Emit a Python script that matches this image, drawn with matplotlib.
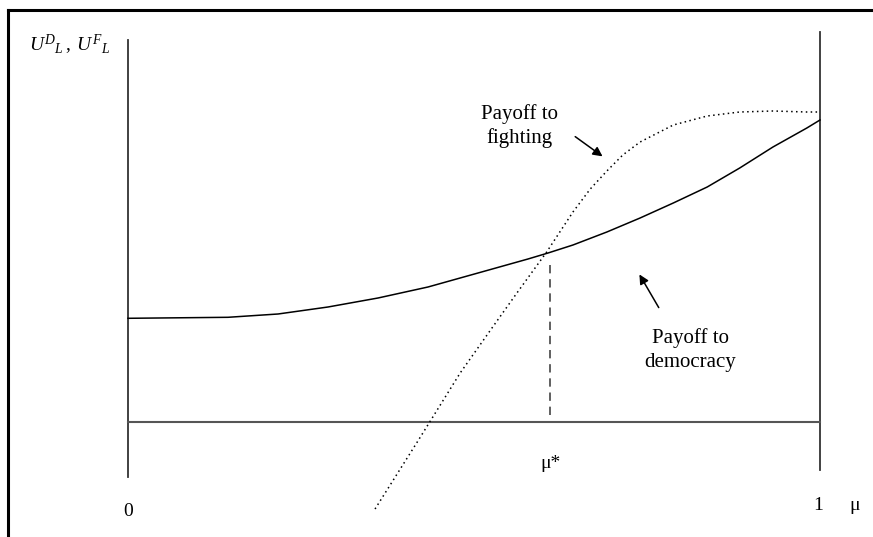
import matplotlib.pyplot as plt
from matplotlib.lines import Line2D

plt.rcParams['font.family'] = ['Liberation Serif', 'DejaVu Serif']
plt.rcParams['mathtext.fontset'] = 'custom'
plt.rcParams['mathtext.it'] = 'Liberation Serif:italic'
plt.rcParams['mathtext.rm'] = 'Liberation Serif'

# payoff to democracy (solid)
mu_dem = [0.0, 0.1445, 0.2168, 0.289, 0.3613, 0.4335, 0.5058, 0.578, 0.607,
          0.643, 0.692, 0.740, 0.788, 0.837, 0.884, 0.932, 0.981, 1.0]
u_dem = [1.037, 1.047, 1.08, 1.15, 1.24, 1.35, 1.49, 1.63, 1.69,
         1.77, 1.90, 2.04, 2.19, 2.35, 2.54, 2.75, 2.94, 3.02]

# payoff to fighting (dotted)
mu_fight = [0.357, 0.418, 0.436, 0.480, 0.527, 0.562, 0.605, 0.643, 0.668, 0.692,
            0.715, 0.740, 0.788, 0.837, 0.884, 0.932, 0.981, 1.0]
u_fight = [-0.87, -0.20, 0.0, 0.49, 0.95, 1.29, 1.70, 2.10, 2.33, 2.51,
           2.67, 2.80, 2.97, 3.06, 3.10, 3.11, 3.10, 3.10]

mu_star = 0.610

fig = plt.figure(figsize=(8.73, 5.37), dpi=100)
ax = fig.add_axes([0, 0, 1, 1])
ax.set_xlim(-128 / 692, 745 / 692)
ax.set_ylim(-1.15, 4.22)
ax.axis('off')

axis_col = '#333333'
# axes of the diagram
ax.plot([0, 0], [-0.55, 3.82], color=axis_col, lw=1.3)
ax.plot([1, 1], [-0.48, 3.90], color=axis_col, lw=1.3)
ax.plot([0, 1], [0, 0], color='#555555', lw=1.5)

# curves
ax.plot(mu_dem, u_dem, color='black', lw=1.1)
ax.plot(mu_fight, u_fight, color='black', lw=1.1, linestyle=(0, (1, 2.2)))

# mu* marker
ax.plot([mu_star, mu_star], [0.07, 1.6], color='#444444', lw=1.2, linestyle=(0, (5, 3.5)))

# labels
ax.text(-0.143, 3.77, r'$U^{D}{}_{L}\,,\;U^{F}{}_{L}$', fontsize=14, ha='left', va='center')
ax.text(0, -0.9, '0', fontsize=14, ha='center', va='center')
ax.text(0.997, -0.84, '1', fontsize=14, ha='center', va='center')
ax.text(1.05, -0.84, 'μ', fontsize=14, ha='center', va='center')
ax.text(mu_star, -0.41, 'μ*', fontsize=14, ha='center', va='center')

ax.text(0.566, 2.96, 'Payoff to\nfighting', fontsize=15, ha='center', va='center', linespacing=1.3)
ax.text(0.813, 0.72, 'Payoff to\ndemocracy', fontsize=15, ha='center', va='center', linespacing=1.3)

ax.annotate('', xy=(0.689, 2.64), xytext=(0.643, 2.87),
            arrowprops=dict(arrowstyle='-|>', color='black', lw=1.1, mutation_scale=14))
ax.annotate('', xy=(0.737, 1.5), xytext=(0.769, 1.12),
            arrowprops=dict(arrowstyle='-|>', color='black', lw=1.1, mutation_scale=14))

# frame on the top and left of the picture
fig.add_artist(Line2D([8 / 873, 1], [1 - 10 / 537, 1 - 10 / 537], color='black', lw=2.2))
fig.add_artist(Line2D([8 / 873, 8 / 873], [0, 1 - 10 / 537], color='black', lw=2.2))

fig.savefig('out.png', dpi=100)
plt.close()
